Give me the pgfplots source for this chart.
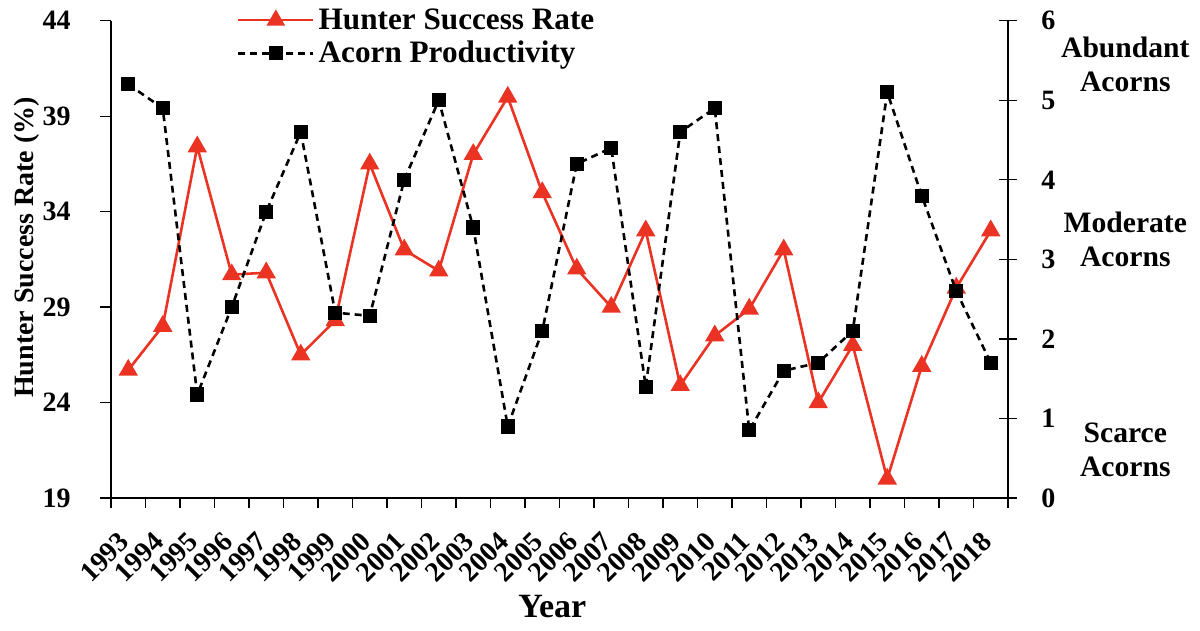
\documentclass[border=0pt]{standalone}
\usepackage{fontspec}
\setmainfont{Liberation Serif}
\usepackage{pgfplots}
\usepackage{pgfplotstable}
\pgfplotsset{compat=1.18}
\definecolor{hred}{RGB}{234,51,35}

\pgfplotstableread{
x hunter acorn
0 25.7 5.2
1 28.0 4.9
2 37.4 1.3
3 30.7 2.4
4 30.8 3.6
5 26.5 4.6
6 28.3 2.33
7 36.5 2.29
8 32.0 4.0
9 30.9 5.0
10 37.0 3.4
11 40.0 0.9
12 35.0 2.1
13 31.0 4.2
14 29.0 4.4
15 33.0 1.4
16 24.9 4.6
17 27.5 4.9
18 28.9 0.85
19 32.0 1.6
20 24.0 1.7
21 27.0 2.1
22 20.0 5.1
23 25.9 3.8
24 30.0 2.6
25 33.0 1.7
}\datatable

\newcommand{\tickfont}{\fontsize{14}{16}\selectfont\bfseries}
\newcommand{\xtfont}{\fontsize{14}{16}\selectfont\bfseries}
\newcommand{\labfont}{\fontsize{14}{17}\selectfont\bfseries}
\newcommand{\rfont}{\fontsize{14.8}{17}\selectfont\bfseries}
\newcommand{\legfont}{\fontsize{15.6}{17}\selectfont\bfseries}
\newcommand{\yearfont}{\fontsize{17}{19}\selectfont\bfseries}

\begin{document}
\begin{tikzpicture}
\useasboundingbox (-55.5pt,-66.5pt) rectangle (544.5pt,249pt);
\begin{axis}[
  at={(0pt,0pt)}, anchor=south west,
  width=448.5pt, height=238.65pt, scale only axis,
  xmin=-0.5, xmax=25.5, ymin=19, ymax=44,
  axis y line*=left, axis x line*=bottom,
  axis line style={line width=0.6pt},
  every tick/.style={black, line width=0.6pt},
  tick align=outside,
  major tick length=5.5pt, minor tick length=5pt,
  xtick={0,...,25},
  xticklabels={1993,1994,1995,1996,1997,1998,1999,2000,2001,2002,2003,2004,2005,2006,2007,2008,2009,2010,2011,2012,2013,2014,2015,2016,2017,2018},
  major x tick style={draw=none},
  minor xtick={-0.5,0.5,...,25.5},
  xticklabel style={anchor=north east, font=\xtfont, inner sep=0pt, xshift=-5.3pt, yshift=-10.5pt, rotate=45},
  ytick={19,24,29,34,39,44},
  yticklabel style={font=\tickfont, anchor=east, inner ysep=0pt, inner xsep=14.5pt},
  /pgf/number format/assume math mode=true,
  ylabel={Hunter Success Rate (\%)},
  ylabel style={font=\labfont, at={(axis description cs:-0.094,0.525)}, anchor=center},
  xlabel={Year},
  xlabel style={font=\yearfont, at={(axis description cs:0.492,-0.228)}, anchor=center},
  clip=false,
]
\addplot[hred, line width=1.3pt, mark=triangle*, mark size=4.3pt, mark options={solid}] table[x=x, y=hunter] {\datatable};
\end{axis}
\begin{axis}[
  at={(0pt,0pt)}, anchor=south west,
  width=448.5pt, height=238.65pt, scale only axis,
  xmin=-0.5, xmax=25.5, ymin=0, ymax=6,
  axis x line=none, axis y line*=right,
  axis line style={line width=0.6pt},
  every tick/.style={black, line width=0.6pt},
  tick align=center, major tick length=9pt,
  ytick={0,1,2,3,4,5,6},
  yticklabel style={font=\tickfont, anchor=west, inner ysep=0pt, inner xsep=12pt},
  /pgf/number format/assume math mode=true,
  clip=false,
  legend style={at={(axis description cs:0.14,1.035)}, anchor=north west, draw=none, fill=none, font=\legfont, row sep=0.5pt, inner sep=0pt,
    legend cell align=left},
  legend image code/.code={\draw[mark repeat=2, mark phase=2, #1] plot coordinates {(0cm,0cm) (0.66cm,0cm) (1.32cm,0cm)};},
]
\addlegendimage{hred, line width=1.1pt, mark=triangle*, mark size=4.3pt, mark options={solid}}
\addlegendentry{Hunter Success Rate}
\addplot[black, line width=1.3pt, dash pattern=on 3.5pt off 2.5pt, mark=square*, mark size=2.9pt, mark options={solid}] table[x=x, y=acorn] {\datatable};
\addlegendentry{Acorn Productivity}
\node[font=\rfont, align=center] at (axis cs:28.9,5.45) {Abundant\\Acorns};
\node[font=\rfont, align=center] at (axis cs:28.9,3.25) {Moderate\\Acorns};
\node[font=\rfont, align=center] at (axis cs:28.9,0.6) {Scarce\\Acorns};
\end{axis}
\end{tikzpicture}
\end{document}
